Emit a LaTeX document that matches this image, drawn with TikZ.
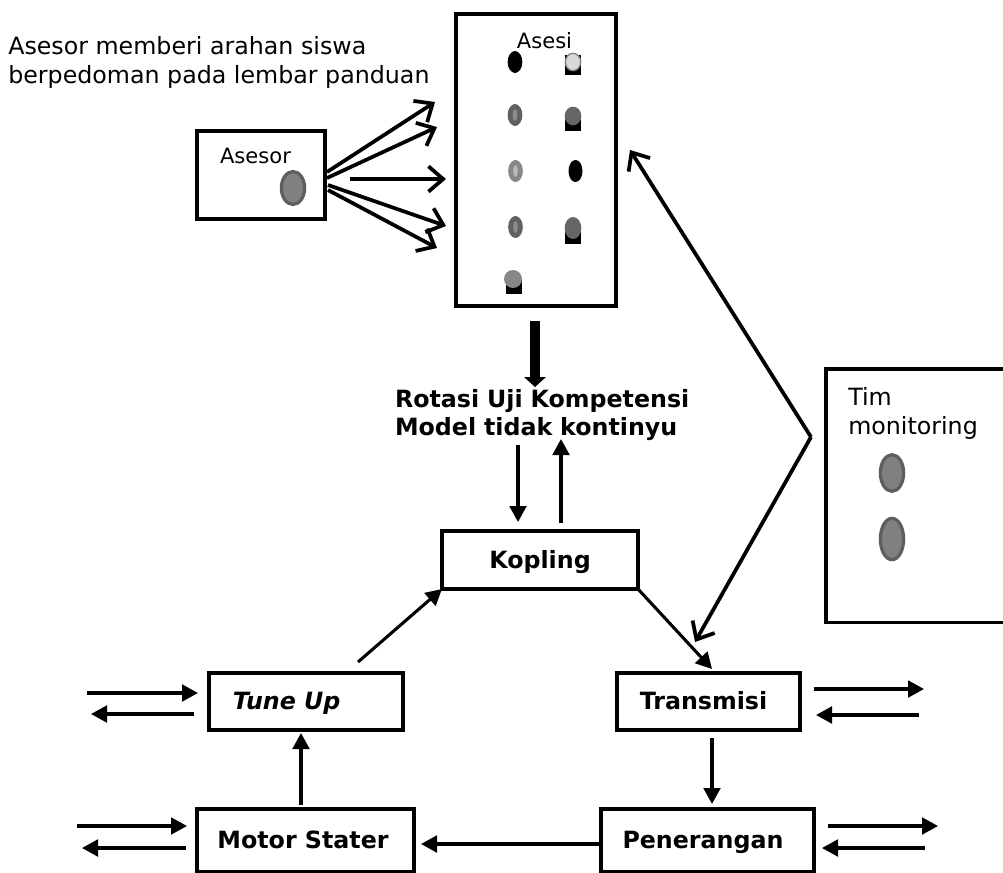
\documentclass[tikz,border=0pt]{standalone}
\usepackage{fontspec}
\setmainfont{DejaVu Sans}
\usetikzlibrary{positioning,arrows.meta,shapes.geometric}
\tikzset{
    every node/.style={inner sep=0pt,font=\fontsize{17.8pt}{21.6pt}\selectfont},
    boxed/.style={draw,line width=2.5pt,outer sep=0pt,text height=14.8pt,text depth=2.5pt},
    barbed/.style={->,>={Straight Barb[length=11pt,width=19pt,line width=2.8pt]},line width=2.8pt},
    flow/.style={->,>={Triangle[length=12pt,width=12.5pt]},line width=2.3pt},
    face/.style={ellipse,draw=black!63,fill=black!50,line width=2.4pt,minimum width=17.5pt},
    person/.style={ellipse,minimum width=11pt,minimum height=16.5pt},
    chair/.style={fill=black,minimum width=12pt,minimum height=#1},
    seat/.style={ellipse,fill=#1,minimum width=12.5pt},
    small label/.style={font=\fontsize{15.8pt}{19pt}\selectfont},
}
\begin{document}
\begin{tikzpicture}[x=.75pt,y=-.75pt]
\useasboundingbox (0,0) rectangle (1003,872);
\node[anchor=base west,align=left] (note) at (8,83) {Asesor memberi arahan siswa\\berpedoman pada lembar panduan};
% top boxes
\node[boxed,minimum width=96pt,minimum height=66pt] (asesor) at (261,175) {};
\node[small label,anchor=base] (asesorlabel) at (255.5,163) {Asesor};
\node[face,minimum height=24.75pt] (asesordot) at (293,188) {};
\node[boxed,minimum width=120pt,minimum height=219pt] (asesi) at (536,160) {};
\node[small label,anchor=base] (asesilabel) at (544.5,48) {Asesi};
\node[boxed,minimum width=150pt,minimum height=190pt] (tim) at (926,495.5) {};
\node[anchor=base west,align=left] (timlabel) at (848,434) {Tim\\monitoring};
\node[face,minimum height=27.5pt] (timdota) at (892,473) {};
\node[face,minimum height=31pt] (timdotb) at (892,539) {};
% students
\node[person,fill=black] (p1) at (515,62) {};
\node[person,fill=black!62] (p2) at (515,115) {};
\node[person,fill=black!47] (p3) at (515.5,171) {};
\node[person,fill=black!62] (p4) at (515.5,227) {};
\node[person,fill=black,minimum width=10.5pt] (p5) at (575.5,171) {};
\node[ellipse,fill=black!45,minimum width=3.5pt,minimum height=9pt] (p2in) at (515,115) {};
\node[ellipse,fill=black!28,minimum width=3.5pt,minimum height=9pt] (p3in) at (515.5,171) {};
\node[ellipse,fill=black!45,minimum width=3.5pt,minimum height=9pt] (p4in) at (515.5,227) {};
\node[chair=15pt] (c1) at (573,65) {};
\node[seat=black!15,draw=black!50,line width=1pt,minimum height=13pt,minimum width=11.5pt] (s1) at (573,62) {};
\node[chair=11pt] (c2) at (573,124) {};
\node[seat=black!60,minimum height=14pt] (s2) at (573,116) {};
\node[chair=11pt] (c3) at (573,237) {};
\node[seat=black!60,minimum height=16.5pt] (s3) at (573,228) {};
\node[chair=12pt] (c4) at (513.5,286) {};
\node[seat=black!47,minimum width=13.5pt,minimum height=13.5pt] (s4) at (513,279) {};
% flow boxes
\node[boxed,minimum width=147pt,minimum height=43.5pt] (kopling) at (540,560) {\textbf{Kopling}};
\node[boxed,minimum width=145.5pt,minimum height=42.75pt] (tuneup) at (306,701.5) {\textbf{\textit{Tune Up}}\kern29pt};
\node[boxed,minimum width=137.25pt,minimum height=42.75pt] (transmisi) at (708.5,701.5) {\textbf{Transmisi}\kern7.5pt};
\node[boxed,minimum width=162.75pt,minimum height=47.25pt] (motor) at (305.5,840.5) {\textbf{Motor Stater}\kern3.75pt};
\node[boxed,minimum width=159.75pt,minimum height=47.25pt] (penerangan) at (707.5,840.5) {\textbf{Penerangan}\kern6.75pt};
\node[text width=240pt,align=left] (rotasi) at (555,415) {\textbf{Rotasi Uji Kompetensi}\\\textbf{Model tidak kontinyu}};
% free ends
\coordinate (corner) at (811,437);
\coordinate (tunein) at (87,693);
\coordinate (tuneout) at (91,714);
\coordinate (motorin) at (77,826);
\coordinate (motorout) at (82,848);
\coordinate (transout) at (924,689);
\coordinate (transin) at (919,715);
\coordinate (peneout) at (938,826);
\coordinate (penein) at (925,848);
% asesor to asesi
\draw[barbed] ([shift={(2,-3)}]asesor.east) -- ([shift={(-21,-58)}]asesi.west);
\draw[barbed] ([shift={(2,3)}]asesor.east) -- ([shift={(-19,-33)}]asesi.west);
\draw[barbed] ([shift={(25,4)}]asesor.east) -- ([shift={(-10,19)}]asesi.west);
\draw[barbed] ([shift={(3,10)}]asesor.east) -- ([shift={(-10,66)}]asesi.west);
\draw[barbed] ([shift={(3,15)}]asesor.east) -- ([shift={(-19,88)}]asesi.west);
% monitoring
\draw[barbed] (corner) -- ([shift={(14,-10)}]asesi.east);
\draw[barbed] (corner) -- ([shift={(-13.5,-31)}]transmisi.north);
% rotation
\draw[->,>={Triangle[length=7.5pt,width=16pt]},line width=7.5pt] ([shift={(-1,15)}]asesi.south) -- ([shift={(-20,-28)}]rotasi.center);
\draw[flow] ([shift={(-37,30)}]rotasi.center) -- ([shift={(-22,-9)}]kopling.north);
\draw[flow] ([shift={(21,-8)}]kopling.north) -- ([shift={(6,24)}]rotasi.center);
\draw[flow] ([shift={(52,-11)}]tuneup.north) -- (kopling.south west);
\draw[flow] (kopling.south east) -- ([shift={(3.5,-4)}]transmisi.north);
\draw[flow] ([shift={(3.5,8)}]transmisi.south) -- ([shift={(4.5,-5)}]penerangan.north);
\draw[flow] ([shift={(0,3.5)}]penerangan.west) -- ([shift={(7,3.5)}]motor.east);
\draw[flow] ([shift={(-4.5,-4)}]motor.north) -- ([shift={(-5,3)}]tuneup.south);
% side arrows
\draw[flow] (tunein) -- ([shift={(-11,-8.5)}]tuneup.west);
\draw[flow] ([shift={(-15,12.5)}]tuneup.west) -- (tuneout);
\draw[flow] (motorin) -- ([shift={(-10,-14.5)}]motor.west);
\draw[flow] ([shift={(-11,7.5)}]motor.west) -- (motorout);
\draw[flow] ([shift={(14,-12.5)}]transmisi.east) -- (transout);
\draw[flow] (transin) -- ([shift={(16,13.5)}]transmisi.east);
\draw[flow] ([shift={(14,-14.5)}]penerangan.east) -- (peneout);
\draw[flow] (penein) -- ([shift={(8,7.5)}]penerangan.east);
\end{tikzpicture}
\end{document}
